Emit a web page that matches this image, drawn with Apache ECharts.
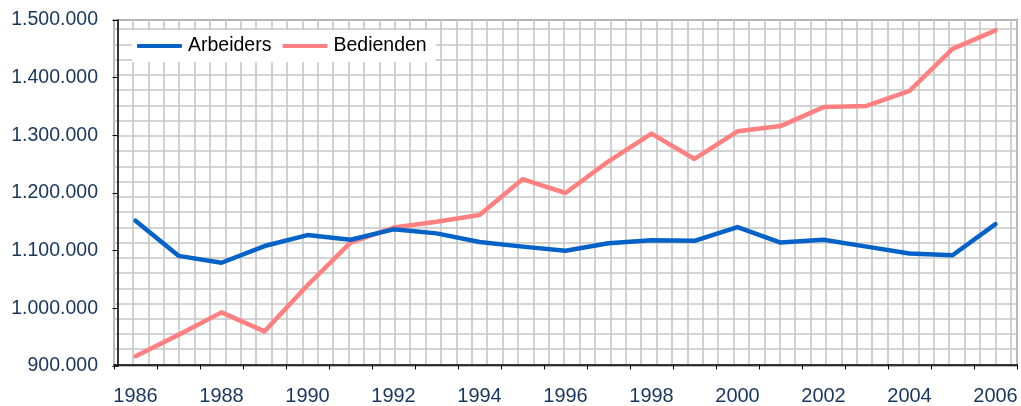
<!DOCTYPE html>
<html>
<head>
<meta charset="utf-8">
<script src="https://cdn.jsdelivr.net/npm/echarts@6/dist/echarts.min.js"></script>
<style>
  html, body { margin: 0; padding: 0; background: #fff; }
  #main { width: 1021px; height: 406px; }
</style>
</head>
<body>
<div id="main"></div>
<script>
var years = ['1986', '1987', '1988', '1989', '1990', '1991', '1992', '1993', '1994', '1995',
             '1996', '1997', '1998', '1999', '2000', '2001', '2002', '2003', '2004', '2005', '2006'];
var arbeiders = [1152000, 1091000, 1079000, 1108000, 1127000, 1119000, 1137000, 1130000, 1115000, 1107000,
                 1100000, 1113000, 1118000, 1117000, 1141000, 1114000, 1119000, 1107000, 1095000, 1092000, 1146000];
var bedienden = [917000, 954000, 993000, 960000, 1040000, 1114000, 1140000, 1150000, 1162000, 1224000,
                 1200000, 1255000, 1303000, 1259000, 1307000, 1316000, 1349000, 1351000, 1377000, 1450000, 1482000];
var yMin = 900000, yMax = 1500000, yStep = 100000;

var font = 'Liberation Sans, Arial, sans-serif';
var labelColor = '#17375e';

function dots(v) {
    return String(v).replace(/\B(?=(\d{3})+(?!\d))/g, '.');
}

var chart = echarts.init(document.getElementById('main'));

// the grid paper background is drawn with two hidden value axes
var paperLine = { show: true, lineStyle: { color: '#c6c6c6', width: 1.6 } };

chart.setOption({
    animation: false,
    grid: {
        left: 114, right: 4, top: 20, bottom: 38,
        show: true,
        backgroundColor: '#fff',
        borderColor: '#8a8a8a',
        borderWidth: 2
    },
    legend: {
        data: ['Arbeiders', 'Bedienden'],
        left: 132, top: 30,
        padding: [6, 9, 6, 5],
        backgroundColor: '#fff',
        icon: 'roundRect',
        itemWidth: 45, itemHeight: 4,
        itemGap: 11,
        textStyle: { fontFamily: font, fontSize: 19.5, color: '#000', padding: [0, 0, 0, 1] }
    },
    xAxis: [{
        type: 'category',
        data: years,
        boundaryGap: true,
        axisLine: { lineStyle: { color: '#000', width: 1.5 } },
        axisTick: { show: true, interval: 0, length: 5, lineStyle: { color: '#000' } },
        axisLabel: { interval: 1, margin: 20, fontFamily: font, fontSize: 20, color: labelColor },
        splitLine: { show: false }
    }, {
        type: 'value',
        position: 'top',
        min: -0.23, max: 58.4,
        minInterval: 1, maxInterval: 1,
        axisLine: { show: false }, axisTick: { show: false }, axisLabel: { show: false },
        splitLine: paperLine
    }],
    yAxis: [{
        type: 'value',
        min: yMin, max: yMax, interval: yStep,
        axisLine: { show: true, lineStyle: { color: '#000', width: 1.5 } },
        axisTick: { show: true, length: 5, lineStyle: { color: '#000' } },
        axisLabel: { margin: 16, fontFamily: font, fontSize: 19.5, color: labelColor, formatter: dots },
        splitLine: { show: false }
    }, {
        type: 'value',
        position: 'right',
        min: -0.1, max: 22.6,
        minInterval: 1, maxInterval: 1,
        axisLine: { show: false }, axisTick: { show: false }, axisLabel: { show: false },
        splitLine: paperLine
    }],
    series: [{
        name: 'Arbeiders',
        type: 'line',
        data: arbeiders,
        symbol: 'none',
        itemStyle: { color: '#0563c8' },
        lineStyle: { color: '#0563c8', width: 4.5, cap: 'round', join: 'round' },
        z: 3
    }, {
        name: 'Bedienden',
        type: 'line',
        data: bedienden,
        symbol: 'none',
        itemStyle: { color: '#ff8080' },
        lineStyle: { color: '#ff8080', width: 4.5, cap: 'round', join: 'round' },
        z: 2
    }]
});
</script>
</body>
</html>
